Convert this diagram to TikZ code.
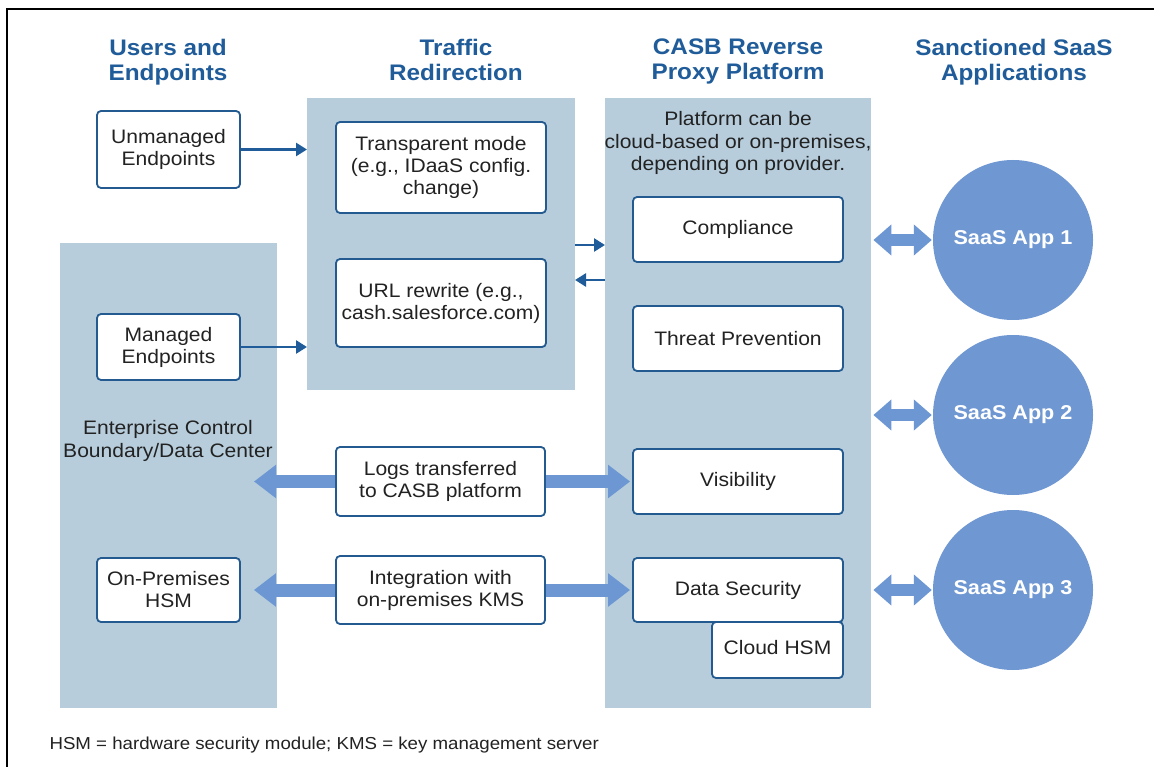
\documentclass[tikz,border=0pt]{standalone}
\usepackage{fontspec}
\setmainfont[FakeStretch=1.08]{Liberation Sans}
\usetikzlibrary{arrows.meta}
\definecolor{hdr}{HTML}{1F5C99}
\definecolor{panel}{HTML}{B7CDDC}
\definecolor{boxline}{HTML}{235A8F}
\definecolor{fat}{HTML}{6C97D3}
\definecolor{circ}{HTML}{6F97D2}
\definecolor{txt}{HTML}{222222}
\begin{document}
\begin{tikzpicture}[x=1pt,y=-1pt,
 panelbox/.style={fill=panel,draw=none,inner sep=0,anchor=north west},
 wbox/.style={draw=boxline,line width=1.8pt,fill=white,rounded corners=4pt,align=center,text=txt,font=\fontsize{19.5}{22}\selectfont,inner sep=0},
 hdrtext/.style={text=hdr,font=\fontsize{22.5}{25}\selectfont\bfseries,align=center,anchor=north,inner sep=0},
 plain/.style={text=txt,font=\fontsize{19.5}{22.5}\selectfont,align=center},
 thinarrow/.style={draw=hdr,line width=2.5pt,-{Triangle[length=11pt,width=13pt]}},
 fatarrow/.style={draw=fat,line width=13pt,-{Triangle[length=22pt,width=32pt]}},
 dblarrow/.style={draw=fat,line width=12pt,{Triangle[length=18pt,width=30pt]}-{Triangle[length=18pt,width=30pt]}},
 app/.style={circle,fill=circ,minimum size=160pt,inner sep=0,text=white,font=\fontsize{20}{24}\selectfont\bfseries}
]
\useasboundingbox (0,0) rectangle (1154,767);
\fill[white] (0,0) rectangle (1154,767);
\draw[line width=2pt] (7,767) -- (7,9) -- (1154,9);

% headers
\node[hdrtext] (h1) at (168,39) {Users and\\Endpoints};
\node[hdrtext] (h2) at (456,39) {Traffic\\Redirection};
\node[hdrtext] (h3) at (738,39) {CASB Reverse\\Proxy Platform};
\node[hdrtext] (h4) at (1014,39) {Sanctioned SaaS\\Applications};

% panels
\node[panelbox,minimum width=268pt,minimum height=292pt] (trafficpanel) at (307,98) {};
\node[panelbox,minimum width=217pt,minimum height=465pt] (entpanel) at (60,243) {};
\node[panelbox,minimum width=266pt,minimum height=610pt] (casbpanel) at (605,98) {};

% panel texts
\node[plain] (platnote) at (738,143) {Platform can be\\cloud-based or on-premises,\\depending on provider.};
\node[plain] (entlabel) at (168,441) {Enterprise Control\\Boundary/Data Center};

% circles
\node[app] (app1) at (1013,240) {SaaS App 1};
\node[app] (app2) at (1013,415) {SaaS App 2};
\node[app] (app3) at (1013,590) {SaaS App 3};

% boxes
\node[wbox,minimum width=143pt,minimum height=77pt] (unm) at (168.5,149.5) {Unmanaged\\Endpoints};
\node[wbox,minimum width=143pt,minimum height=66pt] (man) at (168.5,347) {Managed\\Endpoints};
\node[wbox,minimum width=143pt,minimum height=64pt] (onprem) at (168.5,590) {On-Premises\\HSM};
\node[wbox,minimum width=210pt,minimum height=91pt] (trans) at (441,167.5) {Transparent mode\\(e.g., IDaaS config.\\change)};
\node[wbox,minimum width=210pt,minimum height=88pt] (url) at (441,303) {URL rewrite (e.g.,\\cash.salesforce.com)};
\node[wbox,minimum width=209pt,minimum height=69pt] (logs) at (440.5,481.5) {Logs transferred\\to CASB platform};
\node[wbox,minimum width=209pt,minimum height=68pt] (integ) at (440.5,590) {Integration with\\on-premises KMS};
\node[wbox,minimum width=210pt,minimum height=65pt] (comp) at (738,229.5) {Compliance};
\node[wbox,minimum width=210pt,minimum height=65pt] (threat) at (738,338.5) {Threat Prevention};
\node[wbox,minimum width=210pt,minimum height=65pt] (vis) at (738,481.5) {Visibility};
\node[wbox,minimum width=131pt,minimum height=56pt] (cloudhsm) at (777.5,650) {\raisebox{5pt}{Cloud HSM}};
\node[wbox,minimum width=210pt,minimum height=64pt] (datasec) at (738,590) {Data Security};

% thin arrows
\draw[thinarrow] (unm.east) -- (trafficpanel.west |- unm.east);
\draw[thinarrow] (man.east) -- (trafficpanel.west |- man.east);
\coordinate (ra) at (575,245);
\coordinate (la) at (575,280);
\draw[thinarrow] (ra) -- (casbpanel.west |- ra);
\draw[thinarrow] (casbpanel.west |- la) -- (la);

% fat arrows
\coordinate (logtip) at (254,481.5);
\draw[fatarrow] (logs.west) -- (logtip);
\draw[fatarrow,shorten >=2pt] (logs.east) -- (vis.west);
\draw[fatarrow,shorten >=13pt] (integ.west) -- (onprem.east);
\draw[fatarrow,shorten >=2pt] (integ.east) -- (datasec.west);

% double arrows
\draw[dblarrow,shorten <=2pt,shorten >=1pt] (casbpanel.east |- app1) -- (app1.west);
\draw[dblarrow,shorten <=2pt,shorten >=1pt] (casbpanel.east |- app2) -- (app2.west);
\draw[dblarrow,shorten <=2pt,shorten >=1pt] (casbpanel.east |- app3) -- (app3.west);

% footnote
\node[anchor=west,text=txt,font=\fontsize{17.3}{20}\selectfont] (foot) at (46,745) {HSM = hardware security module; KMS = key management server};
\end{tikzpicture}
\end{document}
